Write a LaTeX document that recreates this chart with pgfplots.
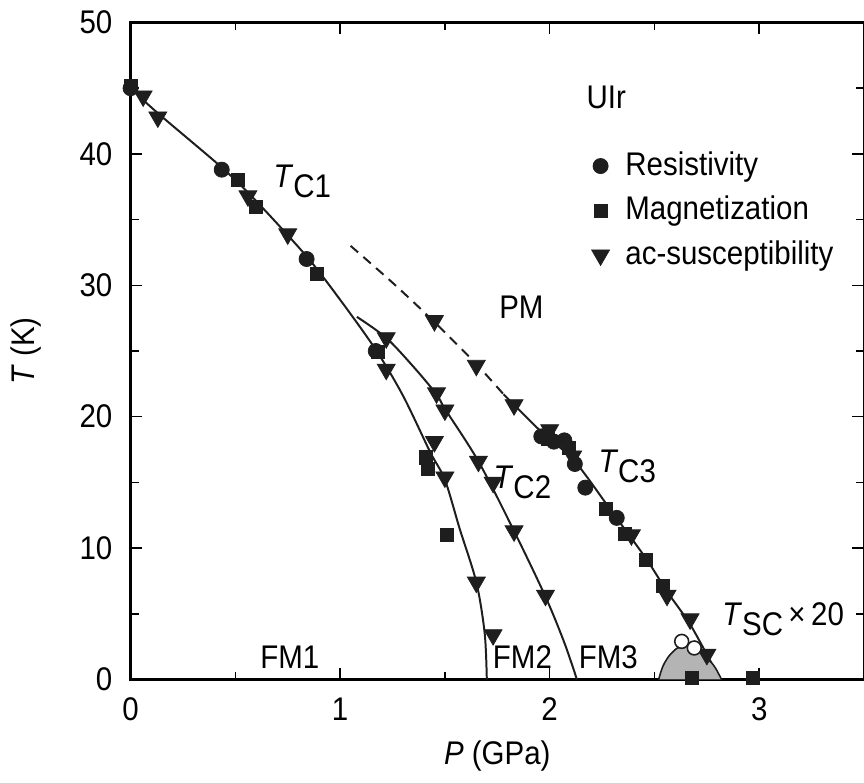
\documentclass[border=0pt]{standalone}
\usepackage{fontspec}
\setmainfont{Liberation Sans}[FakeStretch=0.9]
\usepackage{pgfplots}
\pgfplotsset{compat=1.18}
\definecolor{mk}{HTML}{1E1E1E}
\definecolor{dome}{HTML}{B4B4B4}
\newcommand{\fs}{\fontsize{16.5}{19}\selectfont}
\begin{document}
\fs
\begin{tikzpicture}[trim right={(ax.south east)}]
\begin{axis}[
  name=ax,
  width=369.5pt, height=331pt, scale only axis,
  xmin=0, xmax=3.5, ymin=0, ymax=50,
  xtick={0,1,2,3}, ytick={0,10,...,50},
  minor xtick={0.5,1.5,2.5,3.5}, minor ytick={5,15,...,45},
  tick align=inside,
  major tick length=6pt, minor tick length=4pt,
  axis line style={line width=1.5pt},
  every tick/.style={black, line width=0.8pt},
  /pgf/number format/assume math mode=true,
  ticklabel style={font=\fs},
  yticklabel style={xshift=-3.5pt},
  xticklabel style={yshift=-3.5pt},
  xlabel={\textit{P} (GPa)}, ylabel={\textit{T} (K)},
  label style={font=\fs},
  ylabel style={yshift=8pt},
  xlabel style={yshift=1pt},
  clip=false,
  legend style={at={(axis cs:2.17,40.8)}, anchor=north west, draw=none, fill=none,
    row sep=4pt, font=\fs, /tikz/every odd column/.append style={column sep=6pt}},
  legend cell align=left,
]
% gray SC dome
\addplot[draw=mk, line width=0.8pt, fill=dome, smooth, forget plot] coordinates {
(2.52,0) (2.54,1.0) (2.57,1.8) (2.61,2.4) (2.65,2.55) (2.70,2.3) (2.75,1.7) (2.79,0.9) (2.82,0)};
% T_C1
\addplot[mk, line width=1pt, smooth, forget plot] coordinates {
(0,45) (0.13,43.1) (0.44,38.9) (0.60,36.4) (0.84,32.2) (1.0,28.9) (1.17,25.1) (1.30,21.6)
(1.43,17.3) (1.50,15.2) (1.57,11.5) (1.65,7.4) (1.69,3.5) (1.70,0)};
% T_C2
\addplot[mk, line width=1pt, smooth, forget plot] coordinates {
(1.08,27.6) (1.22,26.0) (1.35,23.8) (1.46,21.7) (1.50,20.6) (1.66,16.6) (1.83,11.3) (1.98,6.3) (2.07,2.8) (2.13,0)};
% T_C3 dashed
\addplot[mk, line width=1pt, dash pattern=on 5pt off 3.5pt, smooth, forget plot] coordinates {
(1.05,33.0) (1.25,30.2) (1.45,27.2) (1.65,24.0) (1.78,21.7)};
% T_C3 solid
\addplot[mk, line width=1pt, smooth, forget plot] coordinates {
(1.78,21.7) (1.83,20.9) (1.97,18.7) (2.12,16.6) (2.30,12.7) (2.46,9.2) (2.56,6.7) (2.67,4.2) (2.77,1.3)};
% Resistivity
\addplot[only marks, mark=*, mark size=3.8pt, mark options={fill=mk, draw=mk}] coordinates {
(0,45) (0.435,38.8) (0.84,32.0) (1.17,25.0) (1.96,18.5) (2.02,18.1) (2.07,18.2)
(2.12,16.4) (2.17,14.6) (2.32,12.3)};
\addlegendentry{Resistivity}
% Magnetization
\addplot[only marks, mark=square*, mark size=3.3pt, mark options={fill=mk, draw=mk}] coordinates {
(0,45.2) (0.51,38.0) (0.60,36.0) (0.89,30.9) (1.18,24.9) (1.41,16.9) (1.42,16.0) (1.51,11.0)
(1.99,18.3) (2.09,17.6) (2.27,13.0) (2.36,11.1) (2.46,9.1) (2.54,7.1) (2.68,0.1) (2.97,0.1)};
\addlegendentry{Magnetization}
% ac-susceptibility
\addplot[only marks, mark=triangle*, mark size=5.2pt, mark options={fill=mk, draw=mk, rotate=180}] coordinates {
(0.06,44.4) (0.13,42.8) (0.56,36.8) (0.75,33.9) (1.22,26.0) (1.22,23.6) (1.45,27.3) (1.65,23.9)
(1.46,21.8) (1.50,20.5) (1.45,18.1) (1.50,15.4) (1.66,16.6) (1.73,15.0) (1.83,20.9) (1.83,11.3)
(1.65,7.4) (1.73,3.4) (1.98,6.4) (2.00,19.0) (2.11,17.0) (2.39,11.0) (2.56,6.4) (2.67,4.6) (2.75,1.9)};
\addlegendentry{ac-susceptibility}
% SC open circles
\addplot[only marks, mark=*, mark size=3.5pt, mark options={fill=white, draw=mk, line width=0.8pt}, forget plot] coordinates {
(2.63,2.9) (2.69,2.4)};
% labels
\node[font=\fs] at (axis cs:2.27,44.3) {UIr};
\node[font=\fs] at (axis cs:0.82,37.9) {\textit{T}\raisebox{-0.55ex}{C1}};
\node[font=\fs] at (axis cs:1.865,28.3) {PM};
\node[font=\fs] at (axis cs:1.87,15.0) {\textit{T}\raisebox{-0.55ex}{C2}};
\node[font=\fs] at (axis cs:2.37,16.2) {\textit{T}\raisebox{-0.55ex}{C3}};
\node[font=\fs, anchor=west] at (axis cs:2.77,4.6) {\textit{T}\raisebox{-0.55ex}{SC}\,×\,20};
\node[font=\fs] at (axis cs:0.76,1.7) {FM1};
\node[font=\fs] at (axis cs:1.87,1.7) {FM2};
\node[font=\fs] at (axis cs:2.28,1.7) {FM3};
\end{axis}
\end{tikzpicture}
\end{document}
